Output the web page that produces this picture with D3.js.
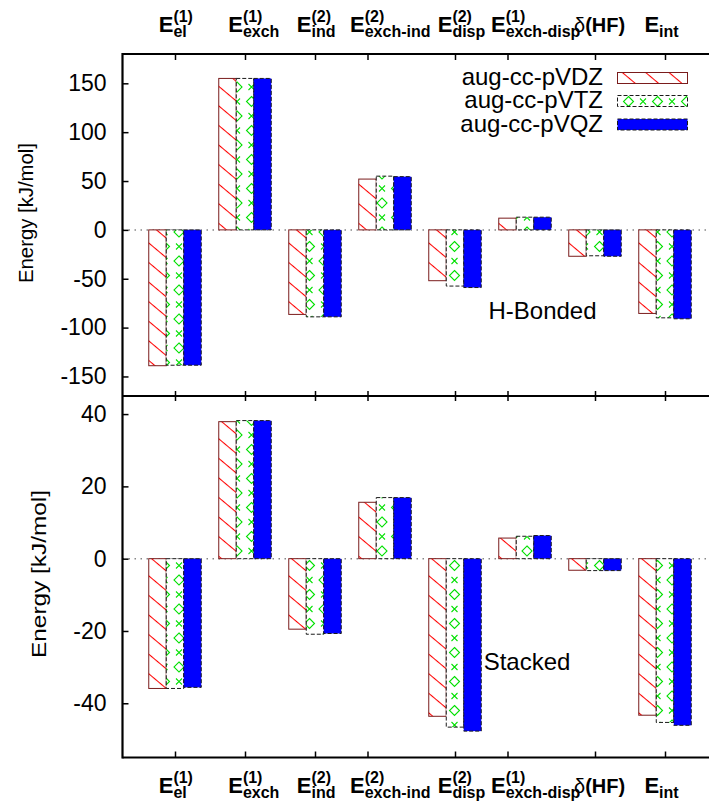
<!DOCTYPE html>
<html>
<head>
<meta charset="utf-8">
<script src="https://cdn.jsdelivr.net/npm/d3@7/dist/d3.min.js"></script>
<style>
  html, body { margin: 0; padding: 0; background: #ffffff; }
  svg { display: block; font-family: "Liberation Sans", Arial, sans-serif; }
</style>
</head>
<body>
<div id="chart"></div>
<script>
// energy terms (x categories), drawn as E^{sup}_{sub}
var termMain = ["E", "E", "E", "E", "E", "E", "\u03b4(HF)", "E"];
var termSup = ["(1)", "(1)", "(2)", "(2)", "(2)", "(1)", "", ""];
var termSub = ["el", "exch", "ind", "exch-ind", "disp", "exch-disp", "", "int"];
// where gnuplot put the x tics
var termTicks = [0, 1, 2, 2.75, 4, 4.75, 6, 7];

var basisSets = ["aug-cc-pVDZ", "aug-cc-pVTZ", "aug-cc-pVQZ"];

// H-Bonded dimer, kJ/mol
var hbondVDZ = [-139, 155, -86.5, 52, -52, 12, -27, -85.5];
var hbondVTZ = [-138.5, 155, -89, 55, -57.5, 13, -26.5, -90];
var hbondVQZ = [-138.5, 155, -89, 54.5, -59, 13, -27, -91];

// Stacked dimer, kJ/mol
var stackVDZ = [-35.9, 37.9, -19.5, 15.6, -43.6, 5.7, -3.2, -43.3];
var stackVTZ = [-35.9, 38.2, -20.9, 16.9, -46.6, 6.2, -3.3, -45.3];
var stackVQZ = [-35.6, 38.2, -20.7, 16.9, -47.7, 6.4, -3.3, -46.1];

var hbondTicks = [-150, -100, -50, 0, 50, 100, 150];
var stackTicks = [-40, -20, 0, 20, 40];

(function () {
  var width = 709;
  var height = 802;
  var left = 122.5;
  var top = 54;
  var mid = 396;
  var bottom = 757.5;
  var right = 709;

  var svg = d3.select("#chart").append("svg")
    .attr("width", width)
    .attr("height", height);

  var defs = svg.append("defs");

  // red "\\\" hatching
  var hatch = defs.append("pattern")
    .attr("id", "hatch")
    .attr("patternUnits", "userSpaceOnUse")
    .attr("width", 10)
    .attr("height", 15)
    .attr("patternTransform", "rotate(40)");
  hatch.append("rect").attr("width", 10).attr("height", 15).attr("fill", "#ffffff");
  hatch.append("line")
    .attr("x1", 0).attr("y1", 0.5).attr("x2", 10).attr("y2", 0.5)
    .attr("stroke", "#ff0000").attr("stroke-width", 1.1);

  // green diamonds and crosses
  var cell = 29;
  var h = cell / 2;
  var dia = defs.append("pattern")
    .attr("id", "diamonds")
    .attr("patternUnits", "userSpaceOnUse")
    .attr("width", cell)
    .attr("height", cell)
    .attr("x", 5);
  dia.append("rect").attr("width", cell).attr("height", cell).attr("fill", "#ffffff");
  [[0, 0], [cell, 0], [0, cell], [cell, cell], [h, h]].forEach(function (p) {
    dia.append("path")
      .attr("d", "M" + p[0] + "," + (p[1] - 5) + "L" + (p[0] + 5) + "," + p[1] +
        "L" + p[0] + "," + (p[1] + 5) + "L" + (p[0] - 5) + "," + p[1] + "Z")
      .attr("fill", "none").attr("stroke", "#00e000").attr("stroke-width", 1.1);
  });
  [[h, 0], [0, h], [cell, h], [h, cell]].forEach(function (p) {
    dia.append("path")
      .attr("d", "M" + (p[0] - 3) + "," + (p[1] - 3) + "L" + (p[0] + 3) + "," + (p[1] + 3) +
        "M" + (p[0] + 3) + "," + (p[1] - 3) + "L" + (p[0] - 3) + "," + (p[1] + 3))
      .attr("fill", "none").attr("stroke", "#00e000").attr("stroke-width", 1.1);
  });

  var styles = [
    {fill: "url(#hatch)", stroke: "#7a1c1c", dash: null},
    {fill: "url(#diamonds)", stroke: "#1a1a1a", dash: "4,2"},
    {fill: "#0000ff", stroke: "#1a1a1a", dash: "4,2"}
  ];

  var x = d3.scaleLinear().domain([-0.75, 7.7]).range([left, left + 8.45 * 70]);
  var yTop = d3.scaleLinear().domain([-170, 180]).range([mid, top]);
  var yBot = d3.scaleLinear().domain([-55, 45]).range([bottom, mid]);
  var barW = x(0.25) - x(0);

  function drawPanel(y, series, ticks, name, nameX, nameY) {
    var g = svg.append("g");

    g.append("line")
      .attr("x1", left).attr("x2", right)
      .attr("y1", y(0)).attr("y2", y(0))
      .attr("stroke", "#888888")
      .attr("stroke-width", 1.5)
      .attr("stroke-dasharray", "1.5,4.5");

    g.append("text")
      .attr("x", nameX)
      .attr("y", nameY)
      .attr("text-anchor", "middle")
      .attr("font-size", 24)
      .text(name);

    series.forEach(function (values, k) {
      g.append("g")
        .selectAll("rect")
        .data(values)
        .join("rect")
        .attr("x", function (d, i) { return x(i + (k - 1) * 0.25) - barW / 2; })
        .attr("width", barW)
        .attr("y", function (d) { return y(Math.max(d, 0)); })
        .attr("height", function (d) { return Math.abs(y(d) - y(0)); })
        .attr("fill", styles[k].fill)
        .attr("stroke", styles[k].stroke)
        .attr("stroke-width", 1)
        .attr("stroke-dasharray", styles[k].dash);
    });

    var axis = g.append("g")
      .attr("transform", "translate(" + left + ",0)")
      .call(d3.axisLeft(y).tickValues(ticks).tickSize(-6).tickPadding(16)
        .tickFormat(function (d) { return String(d); }));
    axis.select(".domain").remove();
    axis.selectAll(".tick line").attr("stroke-width", 1.5);
    axis.selectAll("text")
      .attr("font-family", "'Liberation Sans', Arial, sans-serif")
      .attr("font-size", 23)
      .attr("fill", "#000000");
  }

  drawPanel(yTop, [hbondVDZ, hbondVTZ, hbondVQZ], hbondTicks, "H-Bonded", 542.5, 318.5);
  drawPanel(yBot, [stackVDZ, stackVTZ, stackVQZ], stackTicks, "Stacked", 527, 670);

  // y titles
  [[32.5, 213, 140], [45.5, 574, 168]].forEach(function (p) {
    svg.append("text")
      .attr("transform", "translate(" + p[0] + "," + p[1] + ") rotate(-90)")
      .attr("text-anchor", "middle")
      .attr("font-size", 20)
      .attr("textLength", p[2])
      .attr("lengthAdjust", "spacingAndGlyphs")
      .text("Energy [kJ/mol]");
  });

  // x tics on every horizontal border
  function xTicks(axisFn, yPos, size) {
    var a = svg.append("g")
      .attr("transform", "translate(0," + yPos + ")")
      .call(axisFn(x).tickValues(termTicks).tickSize(size).tickFormat(""));
    a.select(".domain").remove();
    a.selectAll(".tick line").attr("stroke-width", 1.5);
  }
  xTicks(d3.axisTop, top, -6);
  xTicks(d3.axisBottom, mid, -5);
  xTicks(d3.axisTop, mid, -5);
  xTicks(d3.axisBottom, bottom, -6);

  // frame
  var frame = svg.append("g")
    .attr("stroke", "#000000")
    .attr("stroke-width", 2.2);
  frame.append("line").attr("x1", left).attr("x2", right).attr("y1", top).attr("y2", top);
  frame.append("line").attr("x1", left).attr("x2", right).attr("y1", mid).attr("y2", mid);
  frame.append("line").attr("x1", left).attr("x2", right).attr("y1", bottom).attr("y2", bottom);
  frame.append("line").attr("x1", left).attr("x2", left).attr("y1", top - 1).attr("y2", bottom + 1);

  // term labels, left edge of each label in x units
  var labelStart = [-0.233, 0.76, 1.74, 2.5, 3.753, 4.514, 5.7, 6.706];

  function termLabel(i, baseline) {
    var x0 = x(labelStart[i]);
    var t = svg.append("text")
      .attr("x", x0)
      .attr("y", baseline)
      .attr("font-size", 22)
      .attr("font-weight", "bold");
    if (termMain[i].charAt(0) === "\u03b4") {
      t.attr("font-size", 20);
      t.append("tspan").attr("font-weight", "normal").text("\u03b4");
      t.append("tspan").text(termMain[i].slice(1));
      return;
    }
    t.text(termMain[i]);
    var w = t.node().getComputedTextLength();
    if (termSup[i]) {
      svg.append("text")
        .attr("x", x0 + w)
        .attr("y", baseline - 10)
        .attr("font-size", 16)
        .attr("font-weight", "bold")
        .text(termSup[i]);
    }
    if (termSub[i]) {
      svg.append("text")
        .attr("x", x0 + w)
        .attr("y", baseline + 5)
        .attr("font-size", 16)
        .attr("font-weight", "bold")
        .text(termSub[i]);
    }
  }

  termMain.forEach(function (m, i) {
    termLabel(i, 32);
    termLabel(i, 793);
  });

  // key
  var keyBase = [85, 108, 131.5];
  basisSets.forEach(function (name, k) {
    svg.append("text")
      .attr("x", 603)
      .attr("y", keyBase[k])
      .attr("text-anchor", "end")
      .attr("font-size", 24)
      .text(name);
    svg.append("rect")
      .attr("x", 617.5)
      .attr("y", keyBase[k] - 12.5)
      .attr("width", 70)
      .attr("height", 11)
      .attr("fill", styles[k].fill)
      .attr("stroke", styles[k].stroke)
      .attr("stroke-width", 1)
      .attr("stroke-dasharray", styles[k].dash);
  });
}());
</script>
</body>
</html>
